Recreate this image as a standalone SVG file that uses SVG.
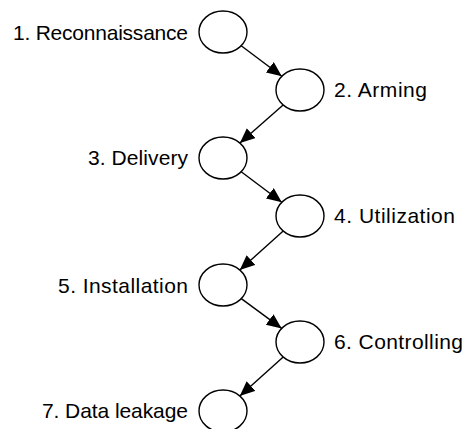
<svg xmlns="http://www.w3.org/2000/svg" width="467" height="429" viewBox="0 0 467 429">
  <style>
    .node ellipse { fill: #ffffff; stroke: #000000; stroke-width: 1.4; }
    .label { font-family: "Liberation Sans", Arial, sans-serif; font-size: 21px; fill: #000000; }
    .left { text-anchor: end; }
    .right { text-anchor: start; }
    .edge { stroke: #000000; stroke-width: 1.4; fill: none; marker-end: url(#arrow); }
  </style>
  <defs>
    <marker id="arrow" markerUnits="userSpaceOnUse" markerWidth="16" markerHeight="14" refX="15" refY="6.5" orient="auto">
      <path d="M0,0 L15,6.5 L0,13 Z" fill="#000000"/>
    </marker>
  </defs>
  <rect width="467" height="429" fill="#ffffff"/>

  <!-- connectors -->
  <g id="edges">
    <line class="edge" x1="241.2" y1="45.7" x2="281.8" y2="76.3"/>
    <line class="edge" x1="283.1" y1="104.9" x2="239.9" y2="143.1"/>
    <line class="edge" x1="241.2" y1="171.7" x2="281.8" y2="202.3"/>
    <line class="edge" x1="283.2" y1="231" x2="239.8" y2="270"/>
    <line class="edge" x1="241.3" y1="298.6" x2="281.7" y2="328.4"/>
    <line class="edge" x1="283.2" y1="357" x2="239.8" y2="396"/>
  </g>

  <!-- steps -->
  <g id="step1" class="node">
    <ellipse cx="223" cy="32" rx="24" ry="21"/>
    <text class="label left" x="188" y="40" textLength="175">1. Reconnaissance</text>
  </g>
  <g id="step2" class="node">
    <ellipse cx="300" cy="90" rx="24" ry="21"/>
    <text class="label right" x="334" y="97" textLength="93">2. Arming</text>
  </g>
  <g id="step3" class="node">
    <ellipse cx="223" cy="158" rx="24" ry="21"/>
    <text class="label left" x="188" y="165" textLength="100">3. Delivery</text>
  </g>
  <g id="step4" class="node">
    <ellipse cx="300" cy="216" rx="24" ry="21"/>
    <text class="label right" x="334" y="223" textLength="121">4. Utilization</text>
  </g>
  <g id="step5" class="node">
    <ellipse cx="223" cy="285" rx="24" ry="21"/>
    <text class="label left" x="188" y="293" textLength="130">5. Installation</text>
  </g>
  <g id="step6" class="node">
    <ellipse cx="300" cy="342" rx="24" ry="21"/>
    <text class="label right" x="334" y="349" textLength="129">6. Controlling</text>
  </g>
  <g id="step7" class="node">
    <ellipse cx="223" cy="411" rx="24" ry="21"/>
    <text class="label left" x="188" y="418" textLength="146">7. Data leakage</text>
  </g>
</svg>
